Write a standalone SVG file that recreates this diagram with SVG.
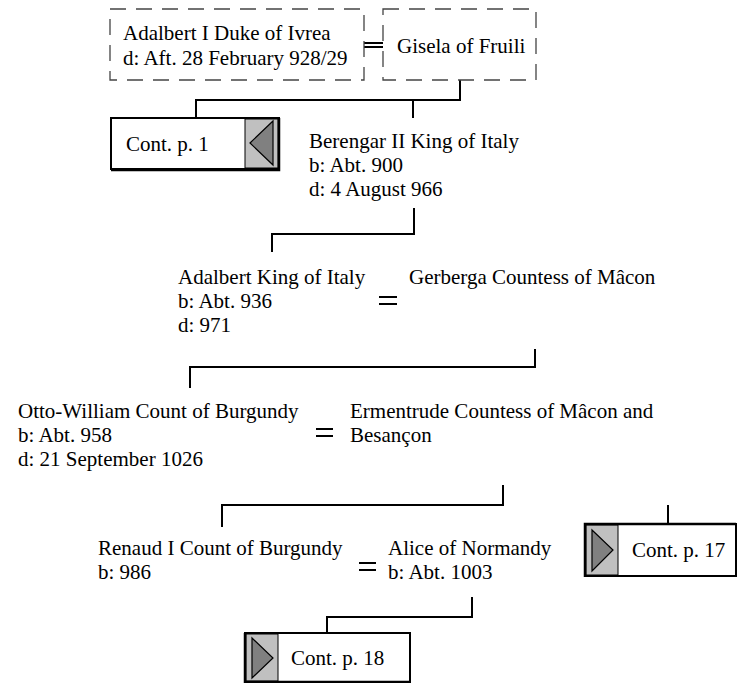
<svg xmlns="http://www.w3.org/2000/svg" width="737" height="683" viewBox="0 0 737 683">
<style>
text{font-family:"Liberation Serif","Times New Roman",serif;font-size:21px;fill:#000}
.dash{fill:#fff;stroke:#444;stroke-width:1.3;stroke-dasharray:16 10}
.ln{fill:none;stroke:#000;stroke-width:2}
.eq{fill:none;stroke:#000;stroke-width:1.8}
.cbox{fill:#fff;stroke:#000;stroke-width:2}
.grey{fill:#c0c0c0;stroke:#000;stroke-width:1}
.tri{fill:#808080;stroke:#000;stroke-width:1.2}
.edge{fill:none;stroke:#000;stroke-width:2.5}
</style>
<rect width="737" height="683" fill="#fff"/>
<g id="connectors">
<path class="eq" d="M364 43H383M364 47H383"/>
<path class="ln" d="M460 80V100H196V118M413 100V118"/>
<path class="ln" d="M414 208V234H272V252"/>
<path class="eq" d="M379 297H397M379 304H397"/>
<path class="ln" d="M535 349V367H190V388"/>
<path class="eq" d="M316 429H333M316 436H333"/>
<path class="ln" d="M503 485V505H222V527M668 505V524"/>
<path class="eq" d="M359 563H376M359 570H376"/>
<path class="ln" d="M472 597V617H327V633"/>
</g>
<g id="adalbert1">
<rect class="dash" x="110" y="9" width="254" height="71"/>
<text x="123" y="40">Adalbert I Duke of Ivrea</text>
<text x="123" y="65">d: Aft. 28 February 928/29</text>
</g>
<g id="gisela">
<rect class="dash" x="383" y="9" width="153" height="71"/>
<text x="397" y="53">Gisela of Fruili</text>
</g>
<g id="cont1">
<rect class="cbox" x="111" y="118" width="168" height="51"/>
<rect class="grey" x="245" y="119" width="33" height="49"/>
<polygon class="tri" points="250,143 273,121 273,165"/>
<path class="edge" d="M279 118V170H111"/>
<text x="126" y="151">Cont. p. 1</text>
</g>
<g id="berengar">
<text x="309" y="148">Berengar II King of Italy</text>
<text x="309" y="172">b: Abt. 900</text>
<text x="309" y="196">d: 4 August 966</text>
</g>
<g id="adalbert">
<text x="178" y="284">Adalbert King of Italy</text>
<text x="178" y="308">b: Abt. 936</text>
<text x="178" y="332">d: 971</text>
</g>
<g id="gerberga">
<text x="409" y="284">Gerberga Countess of Mâcon</text>
</g>
<g id="otto">
<text x="18" y="418">Otto-William Count of Burgundy</text>
<text x="18" y="442">b: Abt. 958</text>
<text x="18" y="466">d: 21 September 1026</text>
</g>
<g id="ermentrude">
<text x="350" y="418">Ermentrude Countess of Mâcon and</text>
<text x="350" y="442">Besançon</text>
</g>
<g id="renaud">
<text x="98" y="555">Renaud I Count of Burgundy</text>
<text x="98" y="579">b: 986</text>
</g>
<g id="alice">
<text x="388" y="555">Alice of Normandy</text>
<text x="388" y="579">b: Abt. 1003</text>
</g>
<g id="cont17">
<rect class="cbox" x="585" y="524" width="151" height="52"/>
<rect class="grey" x="586" y="525" width="32" height="50"/>
<polygon class="tri" points="592,530 613,550 592,571"/>
<path class="edge" d="M585 577V524H736"/>
<text x="632" y="557">Cont. p. 17</text>
</g>
<g id="cont18">
<rect class="cbox" x="245" y="633" width="165" height="49"/>
<rect class="grey" x="246" y="634" width="32" height="47"/>
<polygon class="tri" points="252,638 273,658 252,678"/>
<path class="edge" d="M245 633V682H410"/>
<text x="291" y="665">Cont. p. 18</text>
</g>
</svg>
